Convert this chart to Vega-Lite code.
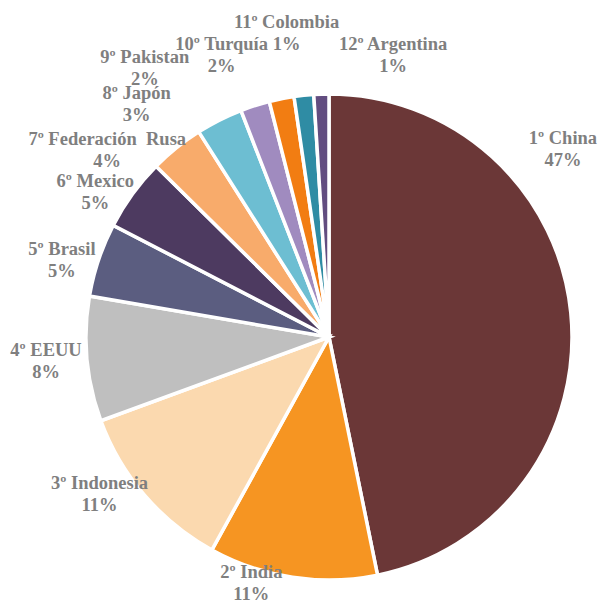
{
  "$schema": "https://vega.github.io/schema/vega-lite/v6.json",
  "autosize": {"type": "none"},
  "width": 546,
  "height": 542,
  "padding": {"left": 56, "top": 66, "right": 0, "bottom": 0},
  "background": "white",
  "view": {"stroke": null},
  "config": {"text": {"font": "Liberation Serif", "fontWeight": "bold", "fontSize": 18.5, "color": "#7F7F7F", "lineHeight": 22, "align": "center", "baseline": "middle", "dy": -11}},
  "data": {"values": [
    {"rank": 1, "pais": "1º China", "share": 0.468, "label": ["1º China", "47%"]},
    {"rank": 2, "pais": "2º India", "share": 0.112, "label": ["2º India", "11%"]},
    {"rank": 3, "pais": "3º Indonesia", "share": 0.114, "label": ["3º Indonesia", "11%"]},
    {"rank": 4, "pais": "4º EEUU", "share": 0.083, "label": ["4º EEUU", "8%"]},
    {"rank": 5, "pais": "5º Brasil", "share": 0.049, "label": ["5º Brasil", "5%"]},
    {"rank": 6, "pais": "6º Mexico", "share": 0.048, "label": ["6º Mexico", "5%"]},
    {"rank": 7, "pais": "7º Federación Rusa", "share": 0.036, "label": ["7º Federación\u00a0 Rusa", "4%"]},
    {"rank": 8, "pais": "8º Japón", "share": 0.031, "label": ["8º Japón", "3%"]},
    {"rank": 9, "pais": "9º Pakistan", "share": 0.0195, "label": ["9º Pakistan", "2%"]},
    {"rank": 10, "pais": "10º Turquía", "share": 0.0165, "label": ["10º Turquía", "2%"]},
    {"rank": 11, "pais": "11º Colombia", "share": 0.013, "label": ["11º Colombia", "1%"]},
    {"rank": 12, "pais": "12º Argentina", "share": 0.010, "label": ["12º Argentina", "1%"]}
  ]},
  "encoding": {
    "theta": {"field": "share", "type": "quantitative", "stack": true},
    "order": {"field": "rank", "type": "quantitative", "sort": "ascending"},
    "detail": {"field": "pais", "type": "nominal"}
  },
  "layer": [
    {
      "mark": {"type": "arc", "radius": 243, "stroke": "white", "strokeWidth": 3.5},
      "encoding": {
        "color": {
          "field": "pais", "type": "nominal", "legend": null,
          "scale": {
            "domain": ["1º China", "2º India", "3º Indonesia", "4º EEUU", "5º Brasil", "6º Mexico", "7º Federación Rusa", "8º Japón", "9º Pakistan", "10º Turquía", "11º Colombia", "12º Argentina"],
            "range": ["#6B3737", "#F69522", "#FBD9AF", "#BFBFBF", "#5B5D80", "#4D3A60", "#F8AB6B", "#6DBED2", "#A08BBF", "#F27D12", "#2F8CA4", "#624D80"]
          }
        }
      }
    },
    {"mark": {"type": "text", "radius": 300, "thetaOffset": -0.576},
     "encoding": {"text": {"condition": {"test": "datum.rank == 1", "field": "label"}, "value": ""}}},
    {"mark": {"type": "text", "radius": 258, "thetaOffset": 0.155},
     "encoding": {"text": {"condition": {"test": "datum.rank == 2", "field": "label"}, "value": ""}}},
    {"mark": {"type": "text", "radius": 278, "thetaOffset": 0.110},
     "encoding": {"text": {"condition": {"test": "datum.rank == 3", "field": "label"}, "value": ""}}},
    {"mark": {"type": "text", "radius": 284, "thetaOffset": 0.007},
     "encoding": {"text": {"condition": {"test": "datum.rank == 4", "field": "label"}, "value": ""}}},
    {"mark": {"type": "text", "radius": 278, "thetaOffset": -0.042},
     "encoding": {"text": {"condition": {"test": "datum.rank == 5", "field": "label"}, "value": ""}}},
    {"mark": {"type": "text", "radius": 275, "thetaOffset": -0.073},
     "encoding": {"text": {"condition": {"test": "datum.rank == 6", "field": "label"}, "value": ""}}},
    {"mark": {"type": "text", "radius": 290, "thetaOffset": -0.192},
     "encoding": {"text": {"condition": {"test": "datum.rank == 7", "field": "label"}, "value": ""}}},
    {"mark": {"type": "text", "radius": 302, "thetaOffset": -0.222},
     "encoding": {"text": {"condition": {"test": "datum.rank == 8", "field": "label"}, "value": ""}}},
    {"mark": {"type": "text", "radius": 326, "thetaOffset": -0.291},
     "encoding": {"text": {"condition": {"test": "datum.rank == 9", "field": "label"}, "value": ""}}},
    {"mark": {"type": "text", "radius": 302, "thetaOffset": -0.167},
     "encoding": {"text": {"condition": {"test": "datum.rank == 10", "field": "label"}, "value": ""}}},
    {"mark": {"type": "text", "radius": 307, "thetaOffset": -0.035},
     "encoding": {"text": {"condition": {"test": "datum.rank == 11", "field": "label"}, "value": ""}}},
    {"mark": {"type": "text", "radius": 289, "thetaOffset": 0.255},
     "encoding": {"text": {"condition": {"test": "datum.rank == 12", "field": "label"}, "value": ""}}}
  ]
}
